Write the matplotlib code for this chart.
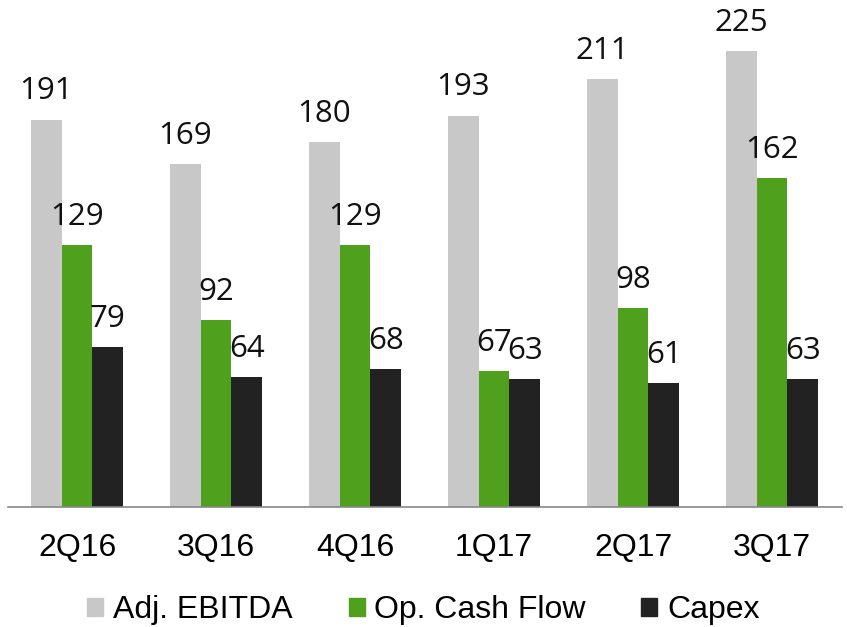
import numpy as np
import matplotlib.pyplot as plt
from matplotlib.patches import Patch

quarters = ["2Q16", "3Q16", "4Q16", "1Q17", "2Q17", "3Q17"]
ebitda = [191, 169, 180, 193, 211, 225]
cash_flow = [129, 92, 129, 67, 98, 162]
capex = [79, 64, 68, 63, 61, 63]

series = [("Adj. EBITDA", ebitda, "#C8C8C8"),
          ("Op. Cash Flow", cash_flow, "#4FA11D"),
          ("Capex", capex, "#222222")]

fig = plt.figure(figsize=(8.47, 6.27), dpi=100)
ax = fig.add_axes([7.5 / 847, 120 / 627, 834 / 847, 507 / 627])

x = np.arange(len(quarters))
w = 0.223
for i, (name, vals, col) in enumerate(series):
    pos = x + (i - 1) * w
    ax.bar(pos, vals, width=w, color=col)
    for p, v in zip(pos, vals):
        ax.text(p, v + 6.5, str(v), ha="center", va="bottom",
                fontsize=22.5, family="Open Sans", color="#111111")

ax.set_xlim(-0.5, len(quarters) - 0.5)
ax.set_ylim(0, 250)
ax.set_yticks([])
ax.set_xticks(x)
ax.set_xticklabels(quarters, fontsize=23, family="Liberation Sans")
ax.tick_params(axis="x", length=0, pad=19)
for s in ["top", "right", "left"]:
    ax.spines[s].set_visible(False)
ax.spines["bottom"].set_color("#888888")
ax.spines["bottom"].set_linewidth(1.2)

handles = [Patch(color=c, label=n) for n, _, c in series]
fig.legend(handles=handles, loc="center", bbox_to_anchor=(0.5, 17 / 627),
           ncol=3, frameon=False, handlelength=0.5, handleheight=0.5,
           handletextpad=0.3, columnspacing=1.75,
           prop={"family": "Liberation Sans", "size": 23})

fig.savefig("out.png", dpi=100)
